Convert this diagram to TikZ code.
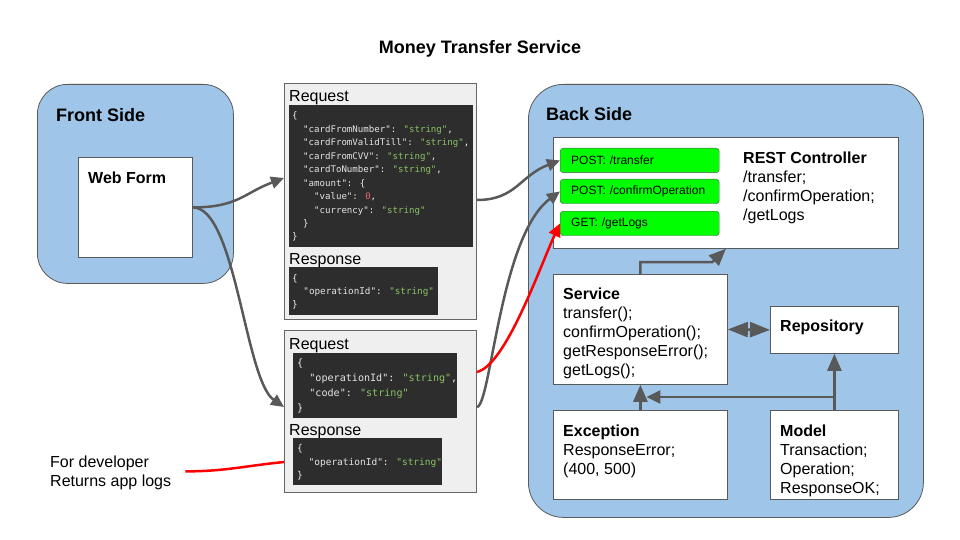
\documentclass[tikz,border=0pt]{standalone}
\usepackage{fontspec}
\setmainfont{Liberation Sans}
\newfontfamily\codefont{DejaVu Sans Mono}
\usetikzlibrary{arrows.meta}
\definecolor{linegray}{HTML}{595959}
\definecolor{sidefill}{HTML}{9FC5E8}
\definecolor{panelfill}{HTML}{EFEFEF}
\definecolor{panelline}{HTML}{666666}
\definecolor{codebg}{HTML}{2D2D2D}
\definecolor{codepunct}{HTML}{EEEEEE}
\definecolor{codekey}{HTML}{E4E4E4}
\definecolor{codestr}{HTML}{8CC265}
\definecolor{codenum}{HTML}{E06C6C}
\definecolor{btngreen}{HTML}{00FF00}
\definecolor{logred}{HTML}{FF0000}
\newcommand{\ckey}[1]{\textcolor{codekey}{"#1"}}
\newcommand{\cstr}[1]{\textcolor{codestr}{"#1"}}
\newcommand{\cnum}[1]{\textcolor{codenum}{#1}}
\newcommand{\cind}{\hspace*{1.204em}}
\tikzset{
  sidebox/.style={draw=linegray,fill=sidefill,line width=0.8pt,rounded corners=30pt,anchor=north west,inner sep=0pt},
  wbox/.style={draw=linegray,fill=white,line width=0.8pt,anchor=north west,inner sep=0pt},
  panel/.style={draw=panelline,fill=panelfill,line width=1pt,anchor=north west,inner sep=0pt},
  codebox/.style={fill=codebg,anchor=north west,inner sep=0pt},
  codetxt/.style={anchor=north west,inner sep=0pt,align=left,text=codepunct},
  btn/.style={draw=linegray,fill=btngreen,rounded corners=3pt,anchor=north west,minimum width=159pt,minimum height=24.5pt,
    text width=137pt,inner xsep=11pt,inner ysep=0pt,align=left,font=\fontsize{12}{14}\selectfont},
  sidetitle/.style={anchor=base west,inner sep=0pt,font=\bfseries\fontsize{18}{21}\selectfont},
  boxlbl/.style={anchor=north west,inner sep=0pt,align=left,font=\fontsize{16}{19}\selectfont},
  plbl/.style={anchor=base west,inner sep=0pt,font=\fontsize{16}{19}\selectfont},
  conn/.style={linegray,line width=2.5pt,-{Triangle[length=13pt,width=12pt]}},
  fat/.style={linegray,line width=2.5pt,-{Triangle[length=17pt,width=14pt]}},
  logline/.style={logred,line width=2.5pt},
}
\begin{document}
\begin{tikzpicture}[x=1pt,y=-1pt]
  \useasboundingbox (0,0) rectangle (960,540);
  \node[anchor=base,inner sep=0pt,font=\bfseries\fontsize{18}{21}\selectfont] (title) at (480,54) {Money Transfer Service};
  % ---------- front side ----------
  \node[sidebox,minimum width=196pt,minimum height=199pt] (front) at (37,84) {};
  \node[sidetitle] (frontlbl) at ([shift={(19,37.5)}]front.north west) {Front Side};
  \node[wbox,minimum width=114pt,minimum height=100pt] (webform) at (78,157) {};
  \node[sidetitle,font=\bfseries\fontsize{16}{19}\selectfont] (webformlbl) at ([shift={(10,26)}]webform.north west) {Web Form};
  % ---------- transfer panel ----------
  \node[panel,minimum width=192pt,minimum height=236pt] (reqA) at (284,83) {};
  \node[plbl] (reqAlbl) at ([shift={(5,19)}]reqA.north west) {Request};
  \node[codebox,minimum width=184pt,minimum height=142pt] (reqAcode) at ([shift={(5,22)}]reqA.north west) {};
  \node[codetxt,font=\codefont\fontsize{9.1}{13.45}\selectfont] (reqAtxt) at ([shift={(3,4.6)}]reqAcode.north west)
    {\rule{0pt}{1em}\{\\
     \cind\ckey{cardFromNumber}: \cstr{string},\\
     \cind\ckey{cardFromValidTill}: \cstr{string},\\
     \cind\ckey{cardFromCVV}: \cstr{string},\\
     \cind\ckey{cardToNumber}: \cstr{string},\\
     \cind\ckey{amount}: \{\\
     \cind\cind\ckey{value}: \cnum{0},\\
     \cind\cind\ckey{currency}: \cstr{string}\\
     \cind\}\\
     \}};
  \node[plbl] (respAlbl) at ([shift={(5,181)}]reqA.north west) {Response};
  \node[codebox,minimum width=149pt,minimum height=48pt] (respAcode) at ([shift={(5,184)}]reqA.north west) {};
  \node[codetxt,font=\codefont\fontsize{9.3}{13}\selectfont] (respAtxt) at ([shift={(3,5.2)}]respAcode.north west)
    {\rule{0pt}{1em}\{\\
     \cind\ckey{operationId}: \cstr{string}\\
     \}};
  % ---------- confirm panel ----------
  \node[panel,minimum width=192pt,minimum height=162pt] (reqB) at (284,330) {};
  \node[plbl] (reqBlbl) at ([shift={(5,19)}]reqB.north west) {Request};
  \node[codebox,minimum width=164pt,minimum height=65pt] (reqBcode) at ([shift={(9,23)}]reqB.north west) {};
  \node[codetxt,font=\codefont\fontsize{10.1}{15}\selectfont] (reqBtxt) at ([shift={(4,3.6)}]reqBcode.north west)
    {\rule{0pt}{1em}\{\\
     \cind\ckey{operationId}: \cstr{string},\\
     \cind\ckey{code}: \cstr{string}\\
     \}};
  \node[plbl] (respBlbl) at ([shift={(5,105)}]reqB.north west) {Response};
  \node[codebox,minimum width=149pt,minimum height=47pt] (respBcode) at ([shift={(9,108)}]reqB.north west) {};
  \node[codetxt,font=\codefont\fontsize{9.5}{13.5}\selectfont] (respBtxt) at ([shift={(4,4)}]respBcode.north west)
    {\rule{0pt}{1em}\{\\
     \cind\ckey{operationId}: \cstr{string}\\
     \}};
  \node[boxlbl] (devnote) at (50,453) {\rule{0pt}{14pt}For developer\\Returns app logs};
  % ---------- back side ----------
  \node[sidebox,rounded corners=35pt,minimum width=395pt,minimum height=433pt] (back) at (528,84) {};
  \node[sidetitle] (backlbl) at ([shift={(18,37)}]back.north west) {Back Side};
  \node[wbox,minimum width=345pt,minimum height=111pt] (rest) at (553,137) {};
  \node[boxlbl] (restlbl) at ([shift={(190,12)}]rest.north west)
    {\rule{0pt}{14pt}\textbf{REST Controller}\\/transfer;\\/confirmOperation;\\/getLogs};
  \node[btn] (btnTransfer) at ([shift={(7,11)}]rest.north west) {POST: /transfer};
  \node[btn] (btnConfirm) at ([shift={(7,42)}]rest.north west) {POST: /confirmOperation};
  \node[btn] (btnLogs) at ([shift={(7,74)}]rest.north west) {GET: /getLogs};
  \node[wbox,minimum width=174pt,minimum height=110pt] (service) at (553,274) {};
  \node[boxlbl] (servicelbl) at ([shift={(10,11)}]service.north west)
    {\rule{0pt}{14pt}\textbf{Service}\\transfer();\\confirmOperation();\\getResponseError();\\getLogs();};
  \node[wbox,minimum width=128pt,minimum height=47pt] (repo) at (770,306) {};
  \node[boxlbl] (repolbl) at ([shift={(10,11)}]repo.north west) {\rule{0pt}{14pt}\textbf{Repository}};
  \node[wbox,minimum width=174pt,minimum height=89pt] (exception) at (553,410) {};
  \node[boxlbl] (exceptionlbl) at ([shift={(10,12)}]exception.north west)
    {\rule{0pt}{14pt}\textbf{Exception}\\ResponseError;\\(400, 500)};
  \node[wbox,minimum width=128pt,minimum height=89pt] (model) at (770,410) {};
  \node[boxlbl] (modellbl) at ([shift={(10,12)}]model.north west)
    {\rule{0pt}{14pt}\textbf{Model}\\Transaction;\\Operation;\\ResponseOK;};
  % ---------- connectors ----------
  \coordinate (reqAin) at ([shift={(0,95)}]reqA.north west);
  \coordinate (reqAout) at ([shift={(0,117)}]reqA.north east);
  \coordinate (reqBin) at ([shift={(0,77)}]reqB.north west);
  \coordinate (reqBout) at ([shift={(0,77)}]reqB.north east);
  \coordinate (reqBred) at ([shift={(0,42)}]reqB.north east);
  \coordinate (reqBlog) at ([shift={(0,132)}]reqB.north west);
  \draw[conn] (webform.east) .. controls +(45,0) and +(-40,15) .. (reqAin);
  \draw[conn] (webform.east) .. controls +(43,0) and +(-39,-27) .. (reqBin);
  \draw[conn] (reqAout) .. controls +(39,0) and +(-40,15) .. (btnTransfer.west);
  \draw[conn] (reqBout) .. controls +(14,-2) and +(-60,44) .. (btnConfirm.west);
  \draw[logline,-{Triangle[length=13pt,width=12pt]}] (reqBred) .. controls +(29,-7) and +(-20,43) .. (btnLogs.west);
  \draw[logline] ([xshift=14pt]devnote.east) .. controls +(40,0) and +(-40,4) .. (reqBlog);
  \draw[fat] (service.north) -- ++(0,-12) -- ++(72,0) -- (rest.south);
  \draw[linegray,line width=2.5pt,{Triangle[length=20pt,width=15pt]}-{Triangle[length=20pt,width=15pt]}] (service.east) -- (repo.west);
  \draw[fat] (exception.north) -- (service.south);
  \draw[fat] (model.north) -- (repo.south);
  \draw[linegray,line width=2.5pt,-{Triangle[length=14pt,width=13pt]}] ([yshift=13pt]model.north) -- ([shift={(6,-13)}]exception.north);
\end{tikzpicture}
\end{document}
